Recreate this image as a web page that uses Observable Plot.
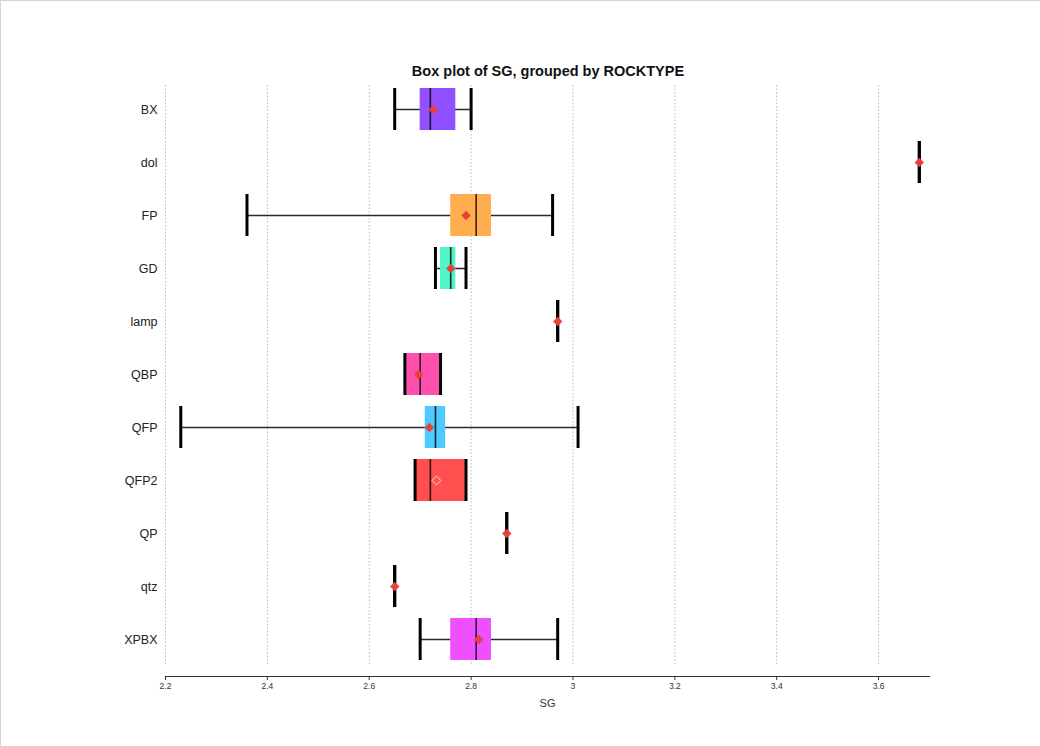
<!DOCTYPE html>
<html>
<head>
<meta charset="utf-8">
<script src="https://cdn.jsdelivr.net/npm/d3@7"></script>
<script src="https://cdn.jsdelivr.net/npm/@observablehq/plot@0.6"></script>
<style>
  html, body { margin: 0; padding: 0; background: #fff; }
  #wrap { position: relative; width: 1040px; height: 746px; overflow: hidden;
          border-top: 1.5px solid #d4d4d4; border-left: 1.5px solid #d4d4d4; box-sizing: border-box; }
  #title { position: absolute; top: 62px; left: 165px; width: 764px; text-align: center;
           font: bold 14.5px "Liberation Sans", Arial, sans-serif; color: #111; }
  #chart { position: absolute; top: -1.5px; left: -1.5px; }
  g[aria-label="x-axis label"] { font-size: 11px; }
</style>
</head>
<body>
<div id="wrap">
  <div id="title">Box plot of SG, grouped by ROCKTYPE</div>
  <div id="chart"></div>
</div>
<script>
// Rock types (top to bottom)
const rockTypes = ["BX", "dol", "FP", "GD", "lamp", "QBP", "QFP", "QFP2", "QP", "qtz", "XPBX"];
// Box statistics for SG
const whiskerLow  = [2.65, 3.68, 2.36, 2.73, 2.97, 2.67, 2.23, 2.69, 2.87, 2.65, 2.70];
const q1          = [2.70, 3.68, 2.76, 2.74, 2.97, 2.67, 2.71, 2.69, 2.87, 2.65, 2.76];
const median      = [2.72, 3.68, 2.81, 2.76, 2.97, 2.70, 2.73, 2.72, 2.87, 2.65, 2.81];
const q3          = [2.77, 3.68, 2.84, 2.77, 2.97, 2.74, 2.75, 2.79, 2.87, 2.65, 2.84];
const whiskerHigh = [2.80, 3.68, 2.96, 2.79, 2.97, 2.74, 3.01, 2.79, 2.87, 2.65, 2.97];
const mean        = [2.726, 3.68, 2.79, 2.76, 2.97, 2.697, 2.718, 2.732, 2.87, 2.65, 2.815];
// Box colours per rock type
const palette = ["#9150ff", "#5b8cff", "#ffad4f", "#4ff5c6", "#b0e04f", "#ff4fad", "#4fcaff", "#ff4f4f", "#4fd0a0", "#c0c0c0", "#ee4fff"];
const xTicks = [2.2, 2.4, 2.6, 2.8, 3.0, 3.2, 3.4, 3.6];
const meanColor = "#e8403a";

const stats = rockTypes.map((t, i) => ({
  type: t, lo: whiskerLow[i], q1: q1[i], med: median[i], q3: q3[i], hi: whiskerHigh[i], mean: mean[i], color: palette[i]
}));
const isRedBox = d => d.color.toLowerCase() === "#ff4f4f";

const chart = Plot.plot({
  width: 1040,
  height: 746,
  marginLeft: 165,
  marginRight: 111,
  marginTop: 82,
  marginBottom: 70,
  style: { fontFamily: "'Liberation Sans', Arial, sans-serif", fontSize: "12px", color: "#222", background: "transparent" },
  x: { domain: [2.2, 3.7] },
  y: { domain: rockTypes, range: [80.3, 667.7], paddingInner: 0.213, paddingOuter: 0.1065 },
  color: { domain: rockTypes, range: palette },
  marks: [
    Plot.gridX(xTicks, { stroke: "#b8b8b8", strokeOpacity: 1, strokeDasharray: "1.5,2", strokeWidth: 1, insetBottom: 10, insetTop: 3 }),
    Plot.frame({ anchor: "bottom", stroke: "#333", strokeWidth: 1.2 }),
    Plot.axisX(xTicks, { tickSize: 4, tickPadding: 2, fontSize: 8.5, stroke: "#333", fill: "#333",
      tickFormat: d => String(d), label: "SG", labelAnchor: "center", labelOffset: 30, labelArrow: false }),
    Plot.axisY({ tickSize: 0, tickPadding: 8, fontSize: 12.5, label: null }),
    Plot.ruleY(stats, { y: "type", x1: "lo", x2: "hi", stroke: "#2a2a2a", strokeWidth: 1.6 }),
    Plot.barX(stats, { y: "type", x1: "q1", x2: "q3", fill: "type" }),
    Plot.tickX(stats, { y: "type", x: "lo", stroke: "#000", strokeWidth: 3 }),
    Plot.tickX(stats, { y: "type", x: "hi", stroke: "#000", strokeWidth: 3 }),
    Plot.tickX(stats, { y: "type", x: "med", stroke: "#000", strokeOpacity: 0.8, strokeWidth: 1.6 }),
    Plot.dot(stats.filter(d => !isRedBox(d)), { y: "type", x: "mean", symbol: "diamond2", r: 4, fill: meanColor, stroke: meanColor, strokeWidth: 0.5 }),
    Plot.dot(stats.filter(isRedBox), { y: "type", x: "mean", symbol: "diamond2", r: 4, fill: "none", stroke: "#ffe0e0", strokeWidth: 1 })
  ]
});
document.getElementById("chart").appendChild(chart);
</script>
</body>
</html>
